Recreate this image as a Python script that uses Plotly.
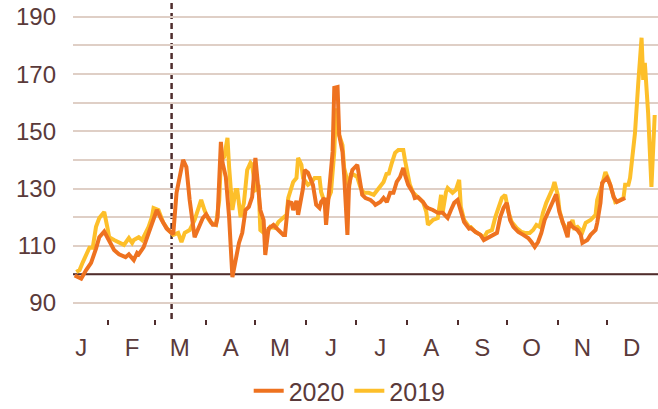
import pandas as pd
import plotly.graph_objects as go

# ---- data (day offset from 1 Jan, index value) ----
days_2020 = [11, 15, 18, 21, 24, 26, 29, 32, 35, 38, 41, 42, 44, 47, 49, 50, 53, 56, 59, 61,
             64, 67, 70, 71, 73, 75, 77, 79, 81, 84, 86, 89, 91, 93, 95, 97, 98, 100, 101, 103,
             105, 107, 109, 111, 113, 115, 117, 119, 121, 123, 124, 126, 127, 129, 132, 135, 138, 139, 141, 143,
             144, 146, 147, 150, 151, 153, 156, 158, 160, 161, 163, 164, 166, 168, 169, 171, 172, 174, 175, 177,
             178, 180, 183, 184, 186, 188, 191, 193, 194, 197, 199, 201, 203, 205, 207, 209, 211, 212, 214, 217,
             218, 220, 223, 225, 226, 229, 231, 232, 235, 238, 240, 242, 244, 246, 248, 251, 252, 255, 258, 260,
             262, 265, 268, 270, 272, 274, 276, 278, 281, 284, 287, 289, 291, 293, 295, 297, 299, 302, 304, 306,
             308, 309, 311, 312, 314, 317, 319, 320, 323, 325, 328, 329, 331, 332, 335, 337, 339, 341, 343, 346]
values_2020 = [99.6, 98.5, 101.5, 104, 109, 113, 115, 112, 108.5, 107, 106, 106, 107, 105, 107.5, 107, 109.5, 114.5, 119.7, 122.5,
               119, 116, 114.5, 114, 128.5, 134, 140, 137.5, 126, 113, 115.5, 119.7, 121, 119, 117.3, 117.3, 120, 146.3, 139, 134,
               120, 99, 105, 111, 114.5, 122.5, 123.6, 127, 140.7, 130.6, 122.5, 119, 106.8, 116, 117.3, 115.5, 113.8, 113.8, 125.3, 125,
               122.5, 125.7, 120.8, 130.2, 136.5, 135.5, 131.3, 124.3, 123.2, 125.3, 126.7, 117.3, 130.2, 142.8, 165.2, 165.5, 148.7, 142.8, 134.8, 113.8,
               131.3, 136.5, 138.3, 134.8, 127.8, 126.7, 126, 125, 124.3, 125.3, 126.7, 125.3, 128.5, 128.5, 132.3, 134, 137.2, 134.8, 131.3, 128.5,
               126.7, 127, 125.3, 123.6, 123.2, 122.5, 121.8, 121.5, 121.5, 119.7, 122.5, 125, 126, 121.8, 118.3, 116, 116.2, 114.8, 113.8, 112,
               112.7, 113.4, 114.5, 120, 123.2, 125, 119, 116.6, 114.8, 113.8, 112.7, 111.3, 109.6, 111.3, 114.5, 119, 121.8, 125.3, 128, 121.8,
               118.3, 115.5, 113, 118.3, 116.6, 115.5, 113.8, 111, 112, 113.8, 115.5, 118, 125, 132, 133.8, 131.3, 127, 125.3, 126, 126.7]

days_2019 = [12, 14, 16, 18, 20, 22, 24, 26, 29, 31, 32, 35, 38, 41, 44, 46, 47, 50, 52, 53,
             56, 58, 59, 62, 65, 68, 71, 74, 76, 78, 81, 84, 86, 88, 90, 92, 94, 97, 99, 100,
             102, 104, 105, 107, 109, 110, 112, 114, 116, 118, 119, 121, 123, 124, 126, 129, 130, 133, 135, 138,
             140, 141, 144, 146, 147, 149, 150, 153, 155, 157, 160, 161, 163, 165, 167, 169, 170, 172, 174, 175,
             178, 179, 181, 183, 185, 187, 190, 193, 195, 197, 199, 201, 202, 204, 206, 208, 211, 212, 214, 215,
             217, 220, 223, 225, 226, 229, 232, 234, 235, 237, 238, 241, 243, 245, 246, 248, 251, 252, 255, 258,
             260, 262, 265, 267, 269, 271, 273, 275, 277, 280, 283, 285, 288, 290, 292, 294, 296, 298, 302, 303,
             305, 306, 308, 311, 314, 315, 317, 320, 322, 325, 328, 329, 332, 334, 336, 338, 340, 343, 345, 346,
             348, 349, 350, 352, 354, 355, 356, 357, 358, 360, 361, 362, 364]
values_2019 = [100.8, 101.5, 104.3, 106.8, 109.3, 109.3, 116.6, 119.7, 121.8, 116.2, 113, 112, 111, 110.3, 112.7, 111, 112, 113, 112, 113,
               116.6, 120, 123.2, 122.5, 118, 115.5, 113.8, 114.5, 111.3, 114.5, 115.5, 119, 122.5, 126, 122.5, 119.7, 118, 117.3, 126, 140,
               141, 147.7, 137.5, 122.5, 129.5, 129.5, 120, 125, 136.5, 139, 138.3, 129.5, 130.2, 115.5, 114.5, 115.5, 116.6, 116.2, 118.3, 119.7,
               120.8, 126.7, 132.3, 133.7, 140.7, 138.3, 133.7, 131.3, 132, 133.7, 133.7, 128.8, 125.3, 126, 128.8, 142.8, 158, 148.7, 145.2, 137.2,
               130.2, 134.8, 134.8, 134, 130.2, 128.5, 128.5, 127.8, 129.5, 130.6, 132.3, 135.5, 134.8, 138.9, 142.5, 143.5, 143.5, 140, 134, 131.3,
               128.5, 127, 125.3, 121.8, 117.3, 119, 119.7, 127.8, 121.8, 128.8, 130.2, 128.5, 129.5, 133, 123.6, 119, 116.6, 116.6, 114.8, 113.8,
               112.7, 114.8, 115.5, 120, 123.6, 126.7, 127.8, 121.8, 118.3, 116.2, 114.8, 114.5, 114.5, 115.5, 117.3, 116.6, 121.5, 125, 130.2, 132.3,
               127.8, 122.5, 118, 115.5, 119, 116.2, 116.6, 114.8, 118, 119, 120.8, 126, 131.3, 135.8, 133, 128.5, 125.3, 126, 126.7, 131.3,
               131.3, 133.7, 139, 149.4, 166.9, 177.4, 182.7, 168, 173.9, 156.4, 141, 130.6, 155.7]

month_labels = ["J", "F", "M", "A", "M", "J", "J", "A", "S", "O", "N", "D"]
y_tick_values = [90, 110, 130, 150, 170, 190]
baseline = 100
event_date = "2020-03-11"
x_range = ["2020-01-11", "2021-01-01"]
y_range = [84.4, 195.9]

base = pd.Timestamp("2020-01-01")
x2020 = base + pd.to_timedelta(days_2020, unit="D")
x2019 = base + pd.to_timedelta(days_2019, unit="D")
month_starts = pd.date_range("2020-01-01", "2020-12-01", freq="MS")
month_mids = month_starts + pd.Timedelta(days=15)

DARK = "#4f2d2d"
GRID = "#dfcfc6"
TEXT = "#5a3a3a"
FONT = "Liberation Sans"

fig = go.Figure()
fig.add_trace(go.Scatter(x=x_range, y=[baseline, baseline], mode="lines", showlegend=False,
                         hoverinfo="skip", line=dict(color=DARK, width=2)))
fig.add_trace(go.Scatter(x=x2019, y=values_2019, mode="lines", name="2019",
                         line=dict(color="#fdbf2a", width=4)))
fig.add_trace(go.Scatter(x=x2020, y=values_2020, mode="lines", name="2020",
                         line=dict(color="#ee7220", width=4)))

fig.add_shape(type="line", xref="x", x0=event_date, x1=event_date, yref="paper", y0=0, y1=1,
              line=dict(color=DARK, width=2.5, dash="6px,4px"), layer="below")

fig.update_layout(
    width=658, height=409,
    margin=dict(l=73, r=0, t=0, b=90, autoexpand=False),
    paper_bgcolor="white", plot_bgcolor="white",
    font=dict(family=FONT, color=TEXT, size=24),
    showlegend=True,
    legend=dict(orientation="h", x=0.473, xanchor="center", y=-0.226, yanchor="middle",
                traceorder="reversed", font=dict(size=25, color=TEXT),
                itemwidth=30, bgcolor="rgba(0,0,0,0)"),
    xaxis=dict(
        range=x_range, automargin=False,
        tickmode="array", tickvals=month_mids, ticktext=month_labels,
        ticks="", showgrid=False, zeroline=False, showline=False,
        tickfont=dict(size=24, color=TEXT),
        ticklabelstandoff=12,
        minor=dict(tickmode="array", tickvals=month_starts, ticks="outside",
                   ticklen=5, tickwidth=1.5, tickcolor=DARK, showgrid=False),
    ),
    yaxis=dict(
        range=y_range, automargin=False,
        tickmode="array", tickvals=y_tick_values,
        showgrid=True, gridcolor=GRID, gridwidth=1.5,
        zeroline=False, showline=False, ticks="",
        tickfont=dict(size=24, color=TEXT),
        ticklabelstandoff=16,
        minor=dict(dtick=10, tick0=90, showgrid=True, gridcolor=GRID, gridwidth=1.5),
    ),
)

fig.write_html("out.html", config={"displayModeBar": False},
               post_script="document.body.style.margin='0';")
